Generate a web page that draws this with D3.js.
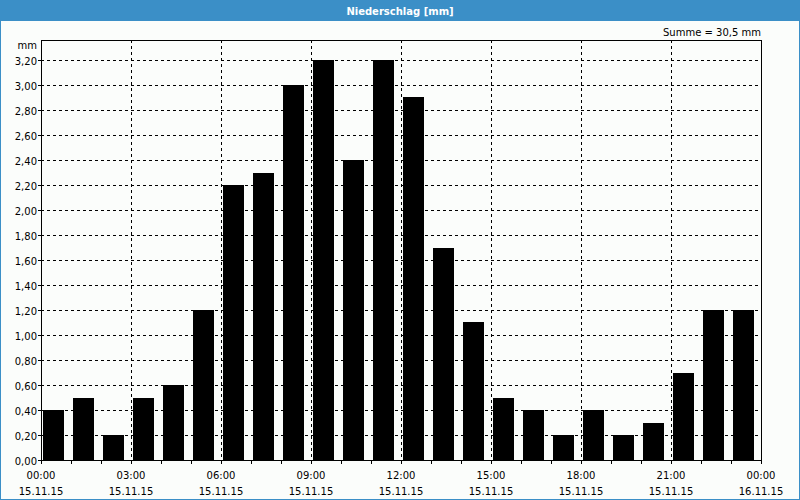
<!DOCTYPE html>
<html><head><meta charset="utf-8">
<script src="https://cdn.jsdelivr.net/npm/d3@7/dist/d3.min.js"></script>
<style>
html,body{margin:0;padding:0;background:#fff;}
svg{display:block;}
text{font-family:"DejaVu Sans",Verdana,sans-serif;}
</style></head>
<body>
<svg id="chart" width="800" height="500"></svg>
<script>
const hours = d3.range(24);
const values = [0.4,0.5,0.2,0.5,0.6,1.2,2.2,2.3,3.0,3.2,2.4,3.2,2.9,1.7,1.1,0.5,0.4,0.2,0.4,0.2,0.3,0.7,1.2,1.2];
const xTickHours = [0,3,6,9,12,15,18,21,24];
const xTimeLabels = ["00:00","03:00","06:00","09:00","12:00","15:00","18:00","21:00","00:00"];
const xDateLabels = ["15.11.15","15.11.15","15.11.15","15.11.15","15.11.15","15.11.15","15.11.15","15.11.15","16.11.15"];
const yTicks = d3.range(0, 3.21, 0.2);
const title = "Niederschlag [mm]";
const unit = "mm";
const sumText = "Summe = 30,5 mm";

const W = 800, H = 500;
const svg = d3.select("#chart");
const blue = "#3b8fc7";

svg.append("rect").attr("x",0).attr("y",0).attr("width",W).attr("height",H).attr("fill","#fbfdfb");
svg.append("rect").attr("x",0.5).attr("y",0.5).attr("width",W-1).attr("height",H-1)
  .attr("fill","none").attr("stroke",blue).attr("shape-rendering","crispEdges");
svg.append("rect").attr("x",0).attr("y",0).attr("width",W).attr("height",21).attr("fill",blue);
svg.append("text").attr("x",W/2).attr("y",15).attr("text-anchor","middle")
  .attr("fill","#fff").attr("font-weight","bold").attr("font-size","10px").text(title);

const L = 41, R = 761, T = 40, B = 460;
const x = d3.scaleLinear().domain([0,24]).range([L,R]);
const y = d3.scaleLinear().domain([0,3.36]).range([B,T]);

const g = svg.append("g").attr("shape-rendering","crispEdges");

// horizontal grid
g.selectAll(".hg").data(yTicks.filter(v=>v>0.01)).enter().append("line")
  .attr("x1",L).attr("x2",R)
  .attr("y1",d=>Math.round(y(d))+0.5).attr("y2",d=>Math.round(y(d))+0.5)
  .attr("stroke","#000").attr("stroke-dasharray","3,3");
// vertical grid
g.selectAll(".vg").data(xTickHours.filter(h=>h>0&&h<24)).enter().append("line")
  .attr("y1",T).attr("y2",B)
  .attr("x1",d=>Math.round(x(d))+0.5).attr("x2",d=>Math.round(x(d))+0.5)
  .attr("stroke","#000").attr("stroke-dasharray","3,3");

// bars
g.selectAll(".bar").data(values).enter().append("rect")
  .attr("x",(d,i)=>x(hours[i])+2)
  .attr("width",21)
  .attr("y",d=>Math.round(y(d)))
  .attr("height",d=>B+1-Math.round(y(d)))
  .attr("fill","#000");

// frame
g.append("rect").attr("x",L+0.5).attr("y",T+0.5).attr("width",R-L).attr("height",B-T)
  .attr("fill","none").attr("stroke","#000");

// x ticks each hour
g.selectAll(".xt").data(d3.range(25)).enter().append("line")
  .attr("x1",d=>Math.round(x(d))+0.5).attr("x2",d=>Math.round(x(d))+0.5)
  .attr("y1",B+0.5).attr("y2",B+3.5).attr("stroke","#000");
// y ticks
g.selectAll(".yt").data(yTicks).enter().append("line")
  .attr("x1",L-3).attr("x2",L+0.5)
  .attr("y1",d=>Math.round(y(d))+0.5).attr("y2",d=>Math.round(y(d))+0.5).attr("stroke","#000");

const fmt = v => v.toFixed(2).replace(".",",");
svg.selectAll(".yl").data(yTicks).enter().append("text")
  .attr("x",37).attr("y",d=>Math.round(y(d))+4.5).attr("text-anchor","end")
  .attr("font-size","10px").attr("fill","#000").text(fmt);
svg.append("text").attr("x",37).attr("y",49).attr("text-anchor","end")
  .attr("font-size","10px").text(unit);
svg.append("text").attr("x",R).attr("y",36).attr("text-anchor","end")
  .attr("font-size","10px").text(sumText);

svg.selectAll(".xl").data(xTickHours).enter().append("text")
  .attr("x",d=>x(d)).attr("y",479).attr("text-anchor","middle")
  .attr("font-size","10px").text((d,i)=>xTimeLabels[i]);
svg.selectAll(".xd").data(xTickHours).enter().append("text")
  .attr("x",d=>x(d)).attr("y",495).attr("text-anchor","middle")
  .attr("font-size","10px").text((d,i)=>xDateLabels[i]);
</script>
</body></html>
